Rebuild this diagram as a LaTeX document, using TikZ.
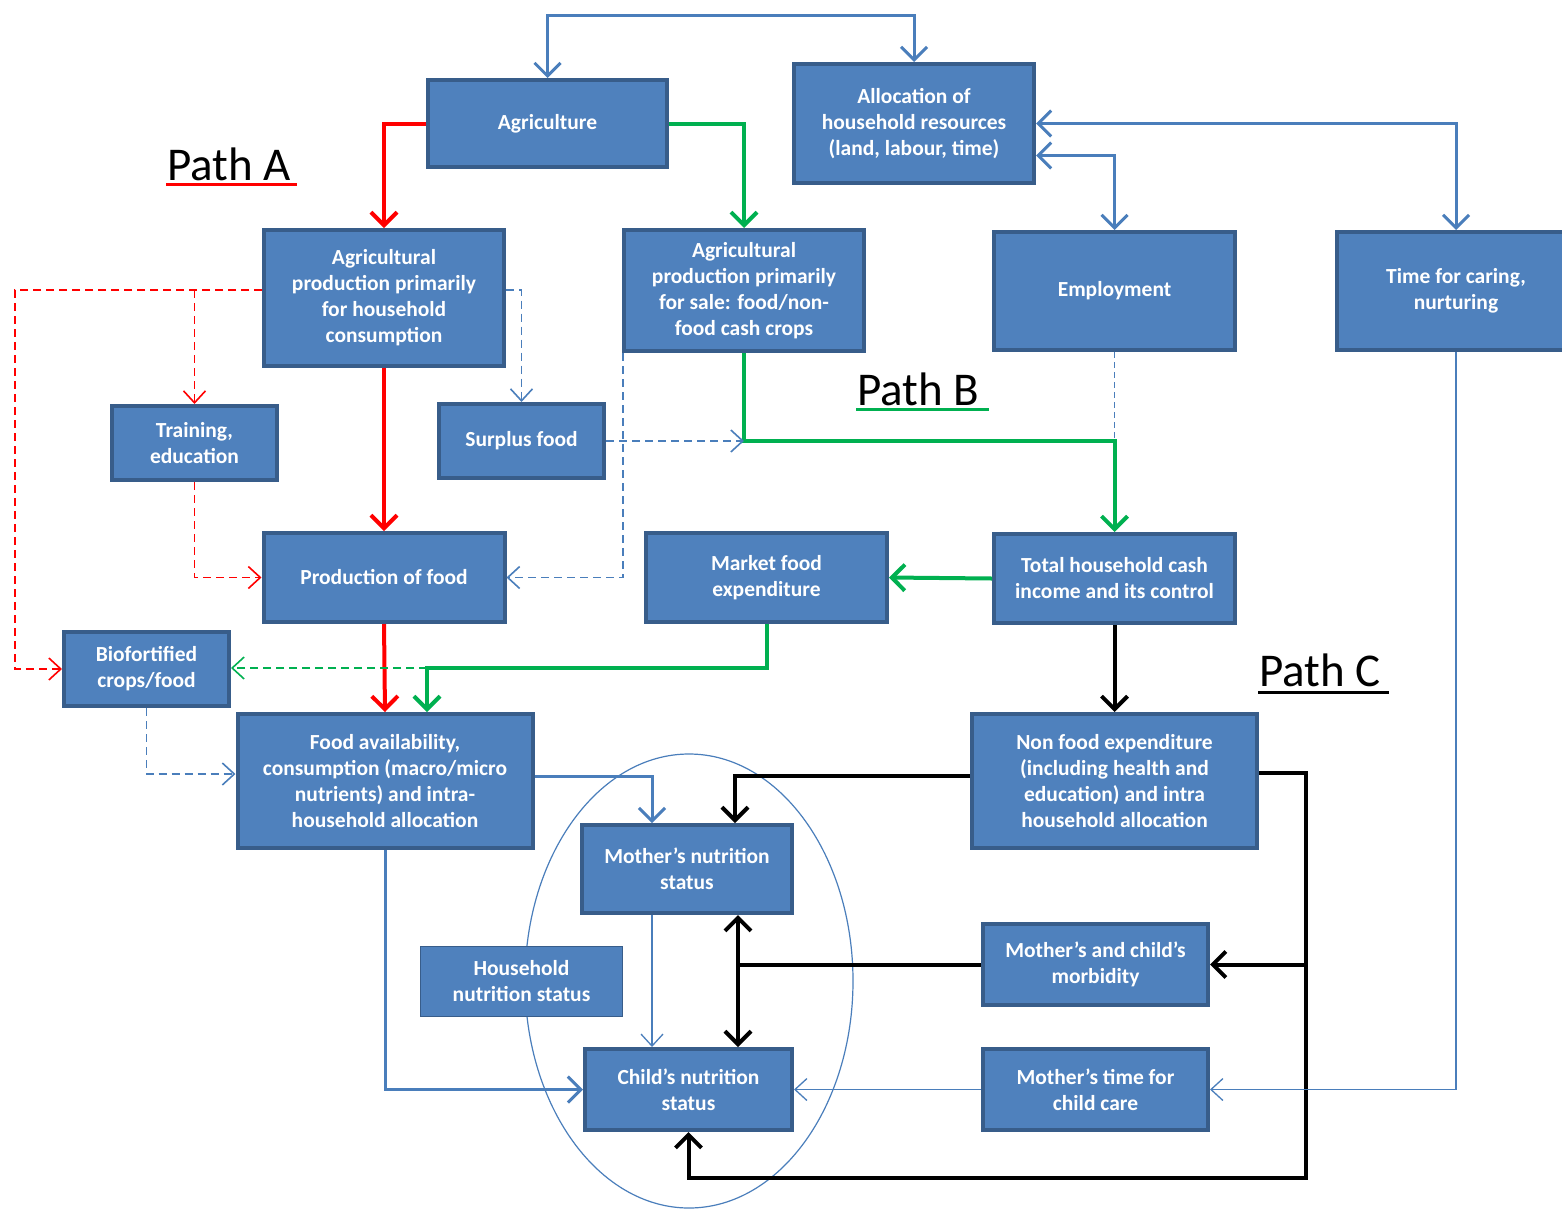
\documentclass[tikz,border=0pt]{standalone}
\usepackage{fontspec}
\setmainfont{Carlito}
\usetikzlibrary{arrows.meta,calc}
\definecolor{boxfill}{HTML}{4F81BD}
\definecolor{boxline}{HTML}{385D8A}
\definecolor{conblue}{HTML}{4A7EBB}
\definecolor{pgreen}{HTML}{00B050}
\tikzset{
  box/.style={draw=boxline, line width=4pt, fill=boxfill, text=white,
    font=\fontsize{21.5}{26}\selectfont\bfseries, align=center, inner sep=0pt},
  thickline/.style={line width=4pt},
  medline/.style={line width=3pt},
  thinline/.style={line width=1.3pt},
  dashline/.style={line width=1.6pt, dash pattern=on 8pt off 5pt},
  bigtip/.style={-{Straight Barb[length=13pt,width=26pt]}},
  bigtips/.style={{Straight Barb[length=13pt,width=26pt]}-{Straight Barb[length=13pt,width=26pt]}},
  smalltip/.style={-{Straight Barb[length=12pt,width=22pt]}},
  pathlabel/.style={font=\fontsize{47}{52}\selectfont, text=black, inner sep=0pt}
}
\begin{document}
\begin{tikzpicture}[x=1pt,y=-1pt]
\clip (0,0) rectangle (1562,1208);
\fill[white] (0,0) rectangle (1562,1208);

% ellipse
\draw[conblue, line width=1.2pt] (689,981) ellipse [x radius=164, y radius=227];

% boxes
\node[box, minimum width=239pt, minimum height=87pt] (agri) at (547.5,123.5) {Agriculture};
\node[box, minimum width=240pt, minimum height=119pt] (alloc) at (914,123.5) {Allocation of\\household resources\\(land, labour, time)};
\node[box, minimum width=240pt, minimum height=136pt] (aghh) at (384,298) {Agricultural\\production primarily\\for household\\consumption};
\node[box, minimum width=240pt, minimum height=121pt] (agsale) at (744,290.5) {Agricultural\\production primarily\\for sale: food/non-\\food cash crops};
\node[box, minimum width=241pt, minimum height=118pt] (employ) at (1114.5,291) {Employment};
\node[box, minimum width=239pt, minimum height=118pt] (caring) at (1456,291) {Time for caring,\\nurturing};
\node[box, minimum width=165pt, minimum height=74pt] (train) at (194.5,443) {Training,\\education};
\node[box, minimum width=165pt, minimum height=74pt] (surplus) at (521.5,441) {Surplus food};
\node[box, minimum width=241pt, minimum height=89pt] (prodfood) at (384,577.5) {Production of food};
\node[box, minimum width=241pt, minimum height=89pt] (market) at (766.5,577.5) {Market food\\expenditure};
\node[box, minimum width=241pt, minimum height=89pt] (cash) at (1114.5,578.5) {Total household cash\\income and its control};
\node[box, minimum width=165pt, minimum height=74pt] (bio) at (146.5,669) {Biofortified\\crops/food};
\node[box, minimum width=295pt, minimum height=134pt] (foodav) at (385,781) {Food availability,\\consumption (macro/micro\\nutrients) and intra-\\household allocation};
\node[box, minimum width=285pt, minimum height=134pt] (nonfood) at (1114.5,781) {Non food expenditure\\(including health and\\education) and intra\\household allocation};
\node[box, minimum width=210pt, minimum height=88pt] (mother) at (687,869) {Mother’s nutrition\\status};
\node[box, line width=1.5pt, minimum width=202pt, minimum height=70pt] (hhnut) at (521.5,981.5) {Household\\nutrition status};
\node[box, minimum width=225pt, minimum height=81pt] (morb) at (1095.5,964.5) {Mother’s and child’s\\morbidity};
\node[box, minimum width=207pt, minimum height=81pt] (child) at (688.5,1089.5) {Child’s nutrition\\status};
\node[box, minimum width=225pt, minimum height=81pt] (mtime) at (1095.5,1089.5) {Mother’s time for\\child care};

% path labels
\node[pathlabel] (pa) at (229,164) {Path A};
\node[pathlabel] (pb) at (918,389) {Path B};
\node[pathlabel] (pc) at (1320,670) {Path C};
\draw[red, line width=3pt] ([xshift=-63pt,yshift=-20pt]pa.center) -- ++(131,0);
\draw[pgreen, line width=3pt] ([xshift=-62pt,yshift=-20pt]pb.center) -- ++(133,0);
\draw[black, line width=3pt] ([xshift=-62pt,yshift=-22pt]pc.center) -- ++(131,0);

% coordinates
\coordinate (topy) at (0,15);
\coordinate (rd1) at (15,290);
\coordinate (rd2) at (194.5,290);
\coordinate (gj) at (744,441);
\coordinate (gm) at (427,668);
\coordinate (bk) at (1306,773);
\coordinate (bkb) at (1306,1178);
\coordinate (mc) at (738,0);
\coordinate (mb) at (652,0);

% blue thick double arrows
\draw[conblue, medline, bigtips] (agri.north) -- (agri.north |- topy) -| (alloc.north);
\draw[conblue, medline, bigtips] (alloc.east) -| (caring.north);
\draw[conblue, medline, bigtips] ([yshift=-32pt]alloc.east) -| (employ.north);

% Path A (red)
\draw[red, thickline, bigtip] (agri.west) -| (aghh.north);
\draw[red, thickline, bigtip] (aghh.south) -- (prodfood.north);
\draw[red, thickline, bigtip] (prodfood.south) -- (foodav.north);
\draw[red, dashline, smalltip] ([yshift=8pt]aghh.west) -- (rd1) |- (bio.west);
\draw[red, dashline, smalltip] (rd2) -- (train.north);
\draw[red, dashline, smalltip] (train.south) |- (prodfood.west);

% Path B (green)
\draw[pgreen, thickline, bigtip] (agri.east) -| (agsale.north);
\draw[pgreen, thickline, bigtip] (agsale.south) -- (gj) -| (cash.north);
\draw[pgreen, thickline, bigtip] (cash.west) -- (market.east);
\draw[pgreen, thickline, bigtip] (market.south) |- (gm) -- (gm |- foodav.north);
\draw[pgreen, dashline, smalltip] (gm) -- (bio.east |- gm);

% blue dashed
\draw[conblue, dashline, smalltip] ([yshift=8pt]aghh.east) -| (surplus.north);
\draw[conblue, dashline, smalltip] (surplus.east) -- (gj);
\draw[conblue, dashline, smalltip] ([xshift=1pt]agsale.south west) |- (prodfood.east);
\draw[conblue, line width=1.3pt, dash pattern=on 6pt off 4pt] (employ.south) -- (employ.south |- gj);
\draw[conblue, dashline, smalltip] (bio.south) |- ([yshift=7pt]foodav.west);

% Path C (black)
\draw[black, thickline, bigtip] (cash.south) -- (nonfood.north);
\draw[black, thickline, bigtip] ([yshift=5pt]nonfood.west) -| ([xshift=48pt]mother.north);
\draw[black, thickline, bigtip] ([yshift=8pt]nonfood.east) -- (bk) -- (bkb) -| (child.south);
\draw[black, thickline, bigtip] (bk |- morb.east) -- (morb.east);
\draw[black, thickline, bigtips] (mother.south -| mc) -- (child.north -| mc);
\draw[black, thickline] (morb.west) -- (mc |- morb.west);

% blue to nutrition status
\draw[conblue, medline, bigtip] ([yshift=5pt]foodav.east) -| (mother.north -| mb);
\draw[conblue, medline, bigtip] (foodav.south) |- (child.west);
\draw[conblue, thinline, smalltip] (mother.south -| mb) -- (child.north -| mb);
\draw[conblue, thinline, smalltip] (mtime.west) -- (child.east);
\draw[conblue, thinline, smalltip] (caring.south) |- (mtime.east);
\end{tikzpicture}
\end{document}
